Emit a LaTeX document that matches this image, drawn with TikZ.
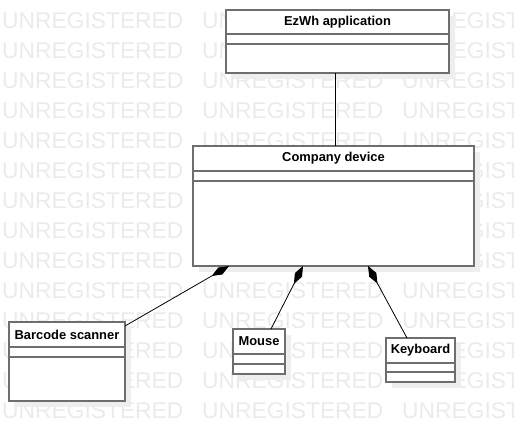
\documentclass[tikz,border=0pt]{standalone}
\usepackage{fontspec}
\setmainfont{Liberation Sans}
\usetikzlibrary{arrows.meta}
\definecolor{wm}{HTML}{EBEBEB}
\definecolor{shd}{HTML}{EEEEEE}
\definecolor{bord}{HTML}{6E6E6E}
\begin{document}
\begin{tikzpicture}[x=1pt,y=-1pt,
  classbox/.style={draw=bord, line width=1.2pt, fill=white, inner sep=0pt, outer sep=0pt},
  sepline/.style={draw=bord, line width=1.2pt},
  shadowbox/.style={fill=shd},
  title/.style={font=\bfseries\fontsize{12.9}{14}\selectfont, inner sep=0pt},
  wmtext/.style={font=\fontsize{22.8}{24}\selectfont, text=wm, inner sep=0pt, anchor=base west},
  link/.style={draw=black, line width=0.8pt},
  comp/.style={draw=black, line width=0.8pt, {Diamond[length=20pt,width=8pt,fill=black]}-}
]
\useasboundingbox[fill=white] (0,0) rectangle (514,441);
% watermark
\begin{scope}
\clip (0,0) rectangle (514,441);
\foreach \j in {0,...,13}{
  \foreach \k in {0,1,2}{
    \node[wmtext] (wm-\j-\k) at ({2+200*\k},{29+29.95*\j}) {UNREGISTERED};
  }
}
\end{scope}
% shadows
\fill[shadowbox] (232,16) rectangle (455,79);
\fill[shadowbox] (199,152) rectangle (480,272);
\fill[shadowbox] (15,328) rectangle (131,407);
\fill[shadowbox] (239,335) rectangle (291,380);
\fill[shadowbox] (392,344) rectangle (461,388);
% boxes
\node[classbox, minimum width=223pt, minimum height=63pt] (ez) at (337.5,41.5) {};
\node[classbox, minimum width=281pt, minimum height=120pt] (cd) at (333.5,206) {};
\node[classbox, minimum width=116pt, minimum height=79pt] (bs) at (67,361.5) {};
\node[classbox, minimum width=52pt, minimum height=45pt] (ms) at (259,351.5) {};
\node[classbox, minimum width=69pt, minimum height=44pt] (kb) at (420.5,360) {};
% compartment lines
\coordinate (y1) at (0,34);  \coordinate (y2) at (0,44);
\draw[sepline] (ez.west |- y1) -- (ez.east |- y1);
\draw[sepline] (ez.west |- y2) -- (ez.east |- y2);
\coordinate (y3) at (0,171); \coordinate (y4) at (0,181);
\draw[sepline] (cd.west |- y3) -- (cd.east |- y3);
\draw[sepline] (cd.west |- y4) -- (cd.east |- y4);
\coordinate (y5) at (0,347); \coordinate (y6) at (0,357);
\draw[sepline] (bs.west |- y5) -- (bs.east |- y5);
\draw[sepline] (bs.west |- y6) -- (bs.east |- y6);
\coordinate (y7) at (0,354); \coordinate (y8) at (0,364);
\draw[sepline] (ms.west |- y7) -- (ms.east |- y7);
\draw[sepline] (ms.west |- y8) -- (ms.east |- y8);
\coordinate (y9) at (0,363); \coordinate (y10) at (0,372);
\draw[sepline] (kb.west |- y9) -- (kb.east |- y9);
\draw[sepline] (kb.west |- y10) -- (kb.east |- y10);
% titles
\node[title] (ez-t) at (337.5,22) {EzWh application};
\node[title] (cd-t) at (333.5,158.5) {Company device};
\node[title] (bs-t) at (67,334.5) {Barcode scanner};
\node[title] (ms-t) at (259,341.5) {Mouse};
\node[title] (kb-t) at (420.5,350.5) {Keyboard};
% connectors
\coordinate (lx) at (335,0);
\draw[link] (ez.south -| lx) -- (cd.north -| lx);
\coordinate (d1) at (229,266);
\coordinate (d2) at (303,266);
\coordinate (d3) at (368,266);
\coordinate (e1) at (125,326);
\coordinate (e2) at (271,329);
\coordinate (e3) at (407,338);
\draw[comp] (d1) -- (e1);
\draw[comp] (d2) -- (e2);
\draw[comp] (d3) -- (e3);
\end{tikzpicture}
\end{document}
